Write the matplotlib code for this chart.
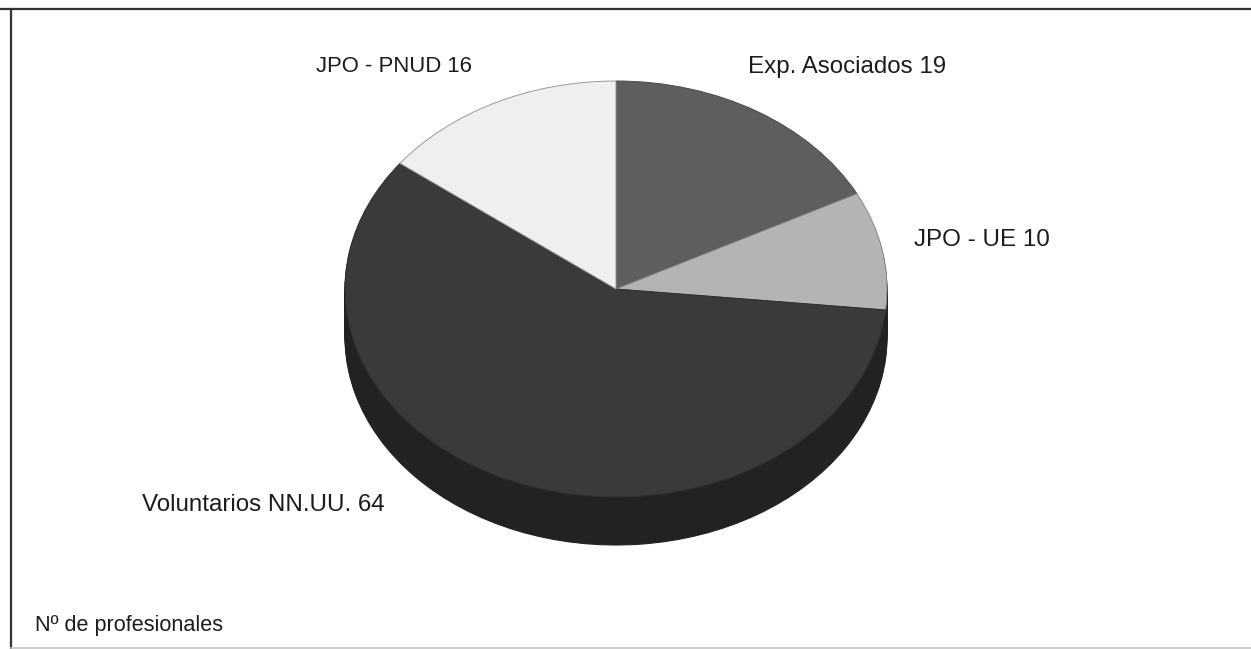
import matplotlib
matplotlib.use("Agg")
import matplotlib.pyplot as plt
from matplotlib.lines import Line2D

categories = ["Exp. Asociados", "JPO - UE", "Voluntarios NN.UU.", "JPO - PNUD"]
values = [19, 10, 64, 16]
colors = ["#5e5e5e", "#b4b4b4", "#3a3a3a", "#efefef"]
edge_colors = ["#4a4a4a", "#8a8a8a", "#2e2e2e", "#9a9a9a"]
side_color = "#222222"
caption = "Nº de profesionales"

W, H = 1251, 649
plt.rcParams["font.family"] = ["Liberation Sans", "DejaVu Sans"]
fig = plt.figure(figsize=(W / 100, H / 100), dpi=100, facecolor="white")

# axes box = top ellipse of the pie in pixels
L, R, T, B = 345, 887, 81, 497
ax = fig.add_axes([L / W, 1 - B / H, (R - L) / W, (B - T) / H])
ax.set_facecolor("none")

depth_px = 48
ry_px = (B - T) / 2
for px in range(depth_px, 0, -2):
    ax.pie(values, colors=[side_color] * len(values), startangle=90, counterclock=False,
           center=(0, -px / ry_px), radius=1,
           wedgeprops=dict(linewidth=0.8, edgecolor=side_color, clip_on=False))

wedges, _ = ax.pie(values, colors=colors, startangle=90, counterclock=False, center=(0, 0), radius=1,
                   wedgeprops=dict(linewidth=0.7, clip_on=False))
for wedge, edge in zip(wedges, edge_colors):
    wedge.set_edgecolor(edge)

ax.set_aspect("auto")
ax.set_xlim(-1, 1)
ax.set_ylim(-1, 1)
ax.axis("off")

def px_text(x, y, s, size=17.4, **kw):
    fig.text(x / W, 1 - y / H, s, fontsize=size, color="#1c1c1c", va="center", **kw)

px_text(748, 67, f"{categories[0]} {values[0]}")
px_text(914, 240, f"{categories[1]} {values[1]}")
px_text(142, 505, f"{categories[2]} {values[2]}")
px_text(316, 67, f"{categories[3]} {values[3]}", size=15.9)
px_text(35, 626, caption, size=15.6)

# page frame
def frame(x0, y0, x1, y1, **kw):
    fig.add_artist(Line2D([x0 / W, x1 / W], [1 - y0 / H, 1 - y1 / H], transform=fig.transFigure, **kw))

frame(0, 9, W, 9, color="#333333", lw=1.6)
frame(11, 9, 11, 649, color="#333333", lw=1.6)
frame(11, 648, W, 648, color="#c4c4c4", lw=1.2)

fig.savefig("out.png", dpi=100, facecolor="white")
